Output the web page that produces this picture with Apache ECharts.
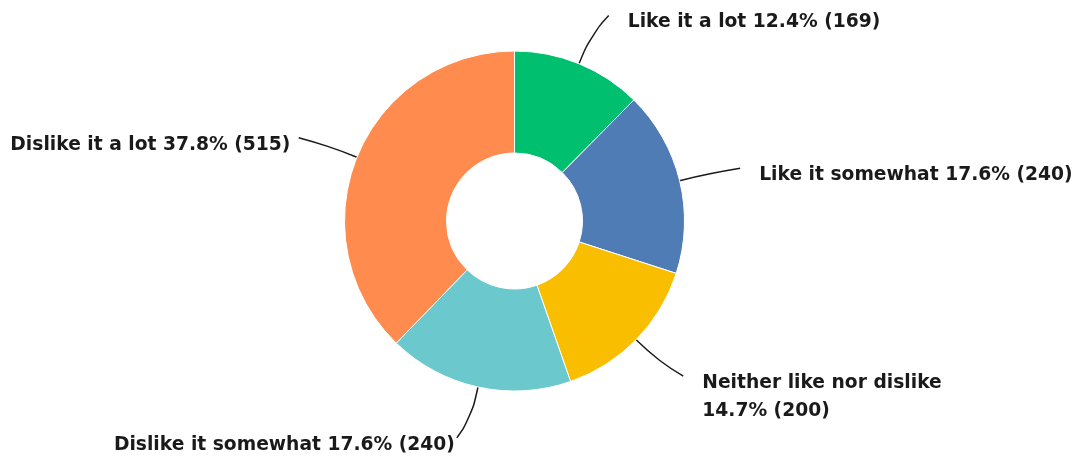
<!DOCTYPE html>
<html>
<head>
<meta charset="utf-8">
<script src="https://cdn.jsdelivr.net/npm/echarts@6/dist/echarts.min.js"></script>
<style>
  html, body { margin: 0; padding: 0; background: #ffffff; }
  #chart { width: 1078px; height: 464px; }
</style>
</head>
<body>
<div id="chart"></div>
<script>
// Answer options, clockwise from the top
const categories = [
  'Like it a lot',
  'Like it somewhat',
  'Neither like nor dislike',
  'Dislike it somewhat',
  'Dislike it a lot'
];
// Number of responses per option
const responses = [169, 240, 200, 240, 515];
// Long option names wrap before the percentage
const wrapped = ['Neither like nor dislike'];

const palette = ['#00BF6F', '#507CB6', '#F9BE00', '#6BC8CD', '#FF8B4F'];

const total = responses.reduce((a, b) => a + b, 0);

const chart = echarts.init(document.getElementById('chart'), null, { renderer: 'canvas' });

chart.setOption({
  animation: false,
  color: palette,
  series: [{
    type: 'pie',
    center: [514.5, 221],
    radius: [68, 170],
    startAngle: 90,
    clockwise: true,
    avoidLabelOverlap: false,
    itemStyle: { borderColor: '#ffffff', borderWidth: 1 },
    emphasis: { disabled: true },
    label: {
      show: true,
      position: 'outside',
      color: '#1a1a1a',
      fontFamily: 'DejaVu Sans',
      fontWeight: 'bold',
      fontSize: 18.7,
      lineHeight: 28,
      formatter: p => {
        const pct = (p.value / total * 100).toFixed(1) + '% (' + p.value + ')';
        return wrapped.includes(p.name) ? p.name + '\n' + pct : p.name + ' ' + pct;
      }
    },
    labelLine: {
      show: true,
      length: 52,
      length2: 10,
      smooth: 0.5,
      lineStyle: { color: '#1a1a1a', width: 1.5 }
    },
    // Leader lines bend gently from the radial direction towards the label;
    // labels sit just below and beside the end of their line
    labelLayout: params => {
      const pts = params.labelLinePoints;
      if (!pts) return {};
      const start = pts[0], knee = pts[1], end = pts[2];
      const mid = [
        start[0] + (knee[0] - start[0]) * 0.6,
        start[1] + (knee[1] - start[1]) * 0.6
      ];
      const rx = knee[0] - start[0], ry = knee[1] - start[1];
      const horiz = Math.abs(rx) / Math.hypot(rx, ry);
      const onRight = end[0] >= start[0];
      return {
        x: onRight ? end[0] + 19 : end[0] - 9 * horiz,
        y: end[1] - 7,
        align: onRight ? 'left' : 'right',
        verticalAlign: 'top',
        labelLinePoints: [start, mid, end]
      };
    },
    data: categories.map((name, i) => ({ name, value: responses[i] }))
  }]
});
</script>
</body>
</html>
